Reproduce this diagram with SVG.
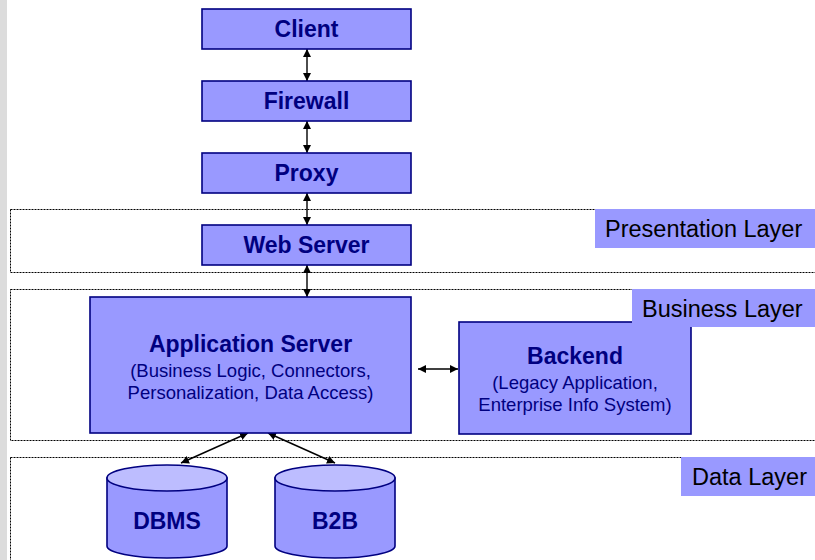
<svg xmlns="http://www.w3.org/2000/svg" width="815" height="560" viewBox="0 0 815 560">
  <style>
    .box { fill: #9999FF; stroke: #000080; stroke-width: 1.6; }
    .cyl { fill: #9999FF; stroke: #000080; stroke-width: 1.6; }
    .cyltop { fill: #BDBDFF; stroke: #000080; stroke-width: 1.6; }
    .title { font-family: "Liberation Sans", Arial, sans-serif; font-weight: bold; font-size: 23px; fill: #000080; text-anchor: middle; }
    .sub { font-family: "Liberation Sans", Arial, sans-serif; font-size: 18.5px; fill: #000080; text-anchor: middle; }
    .layer { fill: none; stroke: #000000; stroke-width: 1; stroke-dasharray: 2 1; }
    .tag { fill: #9999FF; }
    .tagtext { font-family: "Liberation Sans", Arial, sans-serif; font-size: 23.5px; fill: #000000; }
    .link { fill: none; stroke: #000000; stroke-width: 1.4; marker-start: url(#head); marker-end: url(#head); }
  </style>
  <defs>
    <marker id="head" viewBox="0 0 10 10" refX="10" refY="5" markerWidth="8" markerHeight="8" markerUnits="userSpaceOnUse" orient="auto-start-reverse">
      <path d="M0,0 L10,5 L0,10 Z" fill="#000000"/>
    </marker>
  </defs>

  <rect width="815" height="560" fill="#FFFFFF"/>
  <!-- side strip of the page background -->
  <rect x="0" y="0" width="7" height="560" fill="#DCDCDC"/>

  <!-- layer bands -->
  <g id="presentation-layer">
    <rect class="layer" x="10.5" y="209.5" width="820" height="63"/>
    <rect class="tag" x="595" y="209" width="220" height="39"/>
    <text class="tagtext" x="605" y="237">Presentation Layer</text>
  </g>
  <g id="business-layer">
    <rect class="layer" x="10.5" y="289.5" width="820" height="151"/>
  </g>
  <g id="data-layer">
    <rect class="layer" x="10.5" y="457.5" width="820" height="120"/>
    <rect class="tag" x="681" y="457" width="134" height="39"/>
    <text class="tagtext" x="692" y="485">Data Layer</text>
  </g>

  <!-- connectors -->
  <g id="connectors">
    <line class="link" x1="307" y1="49" x2="307" y2="81"/>
    <line class="link" x1="307" y1="121" x2="307" y2="153"/>
    <line class="link" x1="307" y1="193" x2="307" y2="225"/>
    <line class="link" x1="307" y1="265" x2="307" y2="297"/>
    <line class="link" x1="418" y1="369" x2="458" y2="369"/>
    <line class="link" x1="248" y1="433" x2="181" y2="463"/>
    <line class="link" x1="268" y1="433" x2="335" y2="463"/>
  </g>

  <g id="client">
    <rect class="box" x="202" y="9" width="209" height="40"/>
    <text class="title" x="306.5" y="37">Client</text>
  </g>
  <g id="firewall">
    <rect class="box" x="202" y="81" width="209" height="40"/>
    <text class="title" x="306.5" y="109">Firewall</text>
  </g>
  <g id="proxy">
    <rect class="box" x="202" y="153" width="209" height="40"/>
    <text class="title" x="306.5" y="181">Proxy</text>
  </g>
  <g id="web-server">
    <rect class="box" x="202" y="225" width="209" height="40"/>
    <text class="title" x="306.5" y="253">Web Server</text>
  </g>
  <g id="application-server">
    <rect class="box" x="90" y="297" width="321" height="136"/>
    <text class="title" x="250.5" y="352">Application Server</text>
    <text class="sub" x="250.5" y="377">(Business Logic, Connectors,</text>
    <text class="sub" x="250.5" y="399">Personalization, Data Access)</text>
  </g>
  <g id="backend">
    <rect class="box" x="459" y="322" width="232" height="112"/>
    <text class="title" x="575" y="364">Backend</text>
    <text class="sub" x="575" y="389">(Legacy Application,</text>
    <text class="sub" x="575" y="411">Enterprise Info System)</text>
  </g>
  <!-- business layer tag sits over the backend's top edge -->
  <g id="business-layer-tag">
    <rect class="tag" x="632" y="289" width="183" height="38"/>
    <text class="tagtext" x="642" y="317">Business Layer</text>
  </g>

  <g id="dbms">
    <path class="cyl" d="M107,478 L107,546 A60,12 0 0 0 227,546 L227,478 Z"/>
    <ellipse class="cyltop" cx="167" cy="478" rx="60" ry="13"/>
    <text class="title" x="167" y="529">DBMS</text>
  </g>
  <g id="b2b">
    <path class="cyl" d="M275,478 L275,546 A60,12 0 0 0 395,546 L395,478 Z"/>
    <ellipse class="cyltop" cx="335" cy="478" rx="60" ry="13"/>
    <text class="title" x="335" y="529">B2B</text>
  </g>
</svg>
